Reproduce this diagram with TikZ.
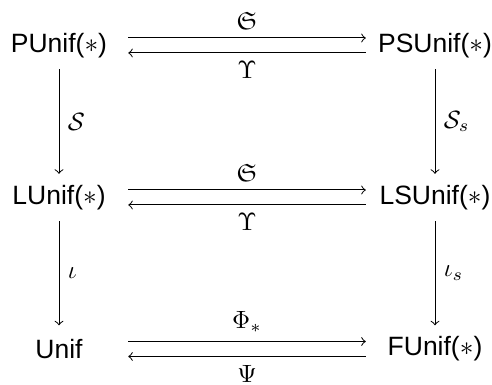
\documentclass[tikz,border=0pt]{standalone}
\usepackage{amsmath,amssymb}
\usepackage{fontspec}
\setsansfont{Liberation Sans}
\usepackage{tikz}
\usetikzlibrary{arrows,positioning,calc}

\begin{document}
\begin{tikzpicture}[x=0.4pt,y=0.4pt,
    obj/.style={minimum width=55pt, minimum height=18.5pt, inner sep=0pt,
                font=\sffamily\fontsize{10.6}{12}\selectfont}]
  \useasboundingbox (0,0) rectangle (492,385);

  \node[obj] (pu)  at (59,339.5)  {PUnif($*$)};
  \node[obj] (psu) at (435,339.5) {PSUnif($*$)};
  \node[obj] (lu)  at (59,187.5)  {LUnif($*$)};
  \node[obj] (lsu) at (435,187.5) {LSUnif($*$)};
  \node[obj] (un)  at (59,36)     {Unif};
  \node[obj] (fu)  at (435,36)    {FUnif($*$)};

  % Top row
  \draw[->] ([yshift=3pt]pu.east) -- node[above] {$\mathfrak{S}$} ([yshift=3pt]psu.west);
  \draw[<-] ([yshift=-3pt]pu.east) -- node[below] {$\Upsilon$} ([yshift=-3pt]psu.west);

  % Middle row
  \draw[->] ([yshift=3pt]lu.east) -- node[above] {$\mathfrak{S}$} ([yshift=3pt]lsu.west);
  \draw[<-] ([yshift=-3pt]lu.east) -- node[below] {$\Upsilon$} ([yshift=-3pt]lsu.west);

  % Bottom row
  \draw[->] ([yshift=3pt]un.east) -- node[above] {$\Phi_*$} ([yshift=3pt]fu.west);
  \draw[<-] ([yshift=-3pt]un.east) -- node[below] {$\Psi$} ([yshift=-3pt]fu.west);

  % Columns
  \draw[->] (pu) -- node[right] {$\mathcal{S}$} (lu);
  \draw[->] (lu) -- node[right] {$\iota$} (un);
  \draw[->] (psu) -- node[right] {$\mathcal{S}_s$} (lsu);
  \draw[->] (lsu) -- node[right] {$\iota_s$} (fu);
\end{tikzpicture}
\end{document}
